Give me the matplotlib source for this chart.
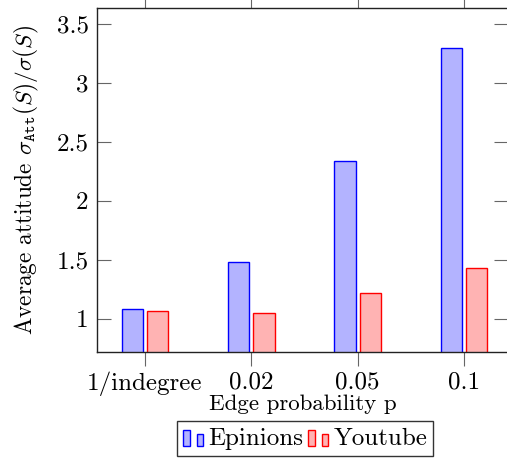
import matplotlib.pyplot as plt
from matplotlib.legend_handler import HandlerBase
from matplotlib.patches import Rectangle
from matplotlib.ticker import FuncFormatter
import numpy as np

plt.rcParams['font.family'] = 'cmr10'
plt.rcParams['mathtext.fontset'] = 'cm'
plt.rcParams['axes.formatter.use_mathtext'] = True

# Datos
categorias = ['1/indegree', '0.02', '0.05', '0.1']
epinions = [1.083, 1.483, 2.338, 3.30]
youtube = [1.063, 1.051, 1.221, 1.432]
yticks = [1, 1.5, 2, 2.5, 3, 3.5]


class DosBarras(HandlerBase):
    # icono de leyenda con dos barritas, como en pgfplots
    def create_artists(self, legend, orig_handle, xdescent, ydescent,
                       width, height, fontsize, trans):
        fc = orig_handle.get_facecolor()
        ec = orig_handle.get_edgecolor()
        y0 = -ydescent - 1
        r1 = Rectangle((-xdescent, y0), width * 0.35, height * 0.95,
                       facecolor=fc, edgecolor=ec, lw=1.0, transform=trans)
        r2 = Rectangle((-xdescent + width * 0.7, y0), width * 0.3, height * 0.7,
                       facecolor=fc, edgecolor=ec, lw=1.0, transform=trans)
        return [r1, r2]


fig = plt.figure(figsize=(5.07, 4.59), dpi=100)
ax = fig.add_axes([97 / 507, 1 - 352 / 459, 411 / 507, 344 / 459])

x = np.arange(len(categorias))
ancho = 0.2
b1 = ax.bar(x - 0.12, epinions, ancho, color='#b3b3ff', edgecolor='blue',
            linewidth=1.0, label='Epinions')
b2 = ax.bar(x + 0.12, youtube, ancho, color='#ffb3b3', edgecolor='red',
            linewidth=1.0, label='Youtube')

ax.set_xlim(-0.4516, 3.414)
ax.set_ylim(0.716, 3.639)
ax.set_xticks(x)
ax.set_xticklabels(categorias, fontsize=18)
ax.set_yticks(yticks)
ax.yaxis.set_major_formatter(FuncFormatter(lambda v, p: '%g' % v))
ax.tick_params(axis='y', direction='in', left=True, right=True, length=10,
               width=0.8, color='#666666', labelsize=18, pad=6)
ax.tick_params(axis='x', direction='out', bottom=True, top=True, length=10,
               width=0.8, color='#666666', pad=4)
for s in ax.spines.values():
    s.set_linewidth(1.0)
    s.set_color('#222222')

ax.set_xlabel('Edge probability p', fontsize=16.5, labelpad=-1)
ax.set_ylabel(r'Average attitude $\sigma_{\mathtt{Att}}(S)/\sigma(S)$',
              fontsize=16.8, labelpad=11)

h1, h2 = b1.patches[0], b2.patches[0]
leg = fig.legend(handles=[h1, h2], labels=['Epinions', 'Youtube'],
                 loc='upper left',
                 bbox_to_anchor=(177 / 507, 1 - 421 / 459), borderaxespad=0,
                 ncol=2, fontsize=18, fancybox=False, edgecolor='black',
                 handler_map={h1: DosBarras(), h2: DosBarras()},
                 handlelength=0.8, handletextpad=0.2, columnspacing=0.2,
                 borderpad=0.25)
leg.get_frame().set_linewidth(1.0)

fig.savefig('out.png', dpi=100)
